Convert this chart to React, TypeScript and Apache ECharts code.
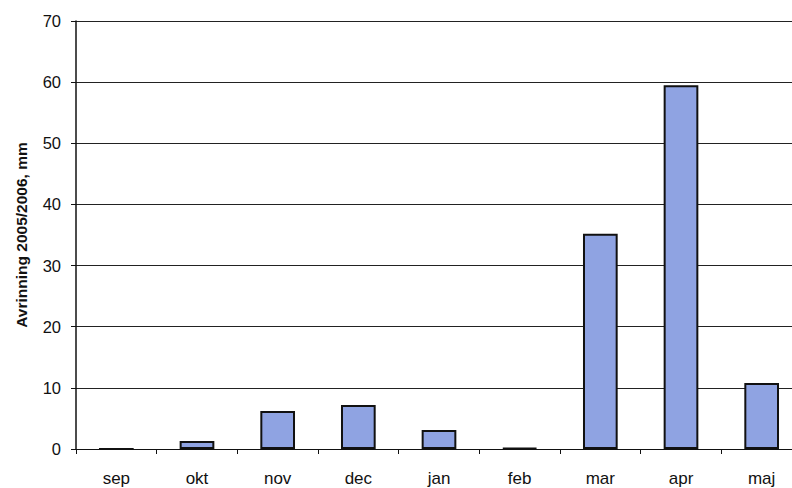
import React, { useEffect, useRef } from "react";
import * as echarts from "echarts";

const months = ["sep", "okt", "nov", "dec", "jan", "feb", "mar", "apr", "maj"];
const runoff = [0, 1.3, 6.2, 7.2, 3.1, 0.15, 35.2, 59.5, 10.8];
const yTicks = { min: 0, max: 70, interval: 10 };
const yTitle = "Avrinning 2005/2006, mm";

export default function App() {
  const ref = useRef<HTMLDivElement>(null);
  useEffect(() => {
    if (!ref.current) return;
    const chart = echarts.init(ref.current, undefined, { renderer: "svg" });
    chart.setOption({
      animation: false,
      backgroundColor: "#ffffff",
      grid: { left: 76, top: 21, bottom: 39, right: 2, containLabel: false },
      xAxis: {
        type: "category",
        data: months,
        axisLine: { lineStyle: { color: "#111", width: 1.2 } },
        axisTick: { show: true, length: 5, lineStyle: { color: "#111" } },
        axisLabel: { color: "#111", fontFamily: "Liberation Sans, Arial", fontSize: 17, margin: 21 },
      },
      yAxis: {
        type: "value",
        min: yTicks.min,
        max: yTicks.max,
        interval: yTicks.interval,
        name: yTitle,
        nameLocation: "middle",
        nameGap: 47,
        nameTextStyle: { color: "#111", fontFamily: "Liberation Sans, Arial", fontSize: 15.5, fontWeight: "bold" },
        axisLine: { show: true, lineStyle: { color: "#111", width: 1.5 } },
        axisTick: { show: true, length: 5, lineStyle: { color: "#111" } },
        axisLabel: { color: "#111", fontFamily: "Liberation Sans, Arial", fontSize: 16.5, margin: 15 },
        splitLine: { show: true, lineStyle: { color: "#222", width: 1 } },
      },
      series: [
        {
          type: "bar",
          data: runoff,
          barWidth: "43%",
          itemStyle: { color: "#8fa3e2", borderColor: "#111", borderWidth: 2 },
        },
      ],
    });
    return () => chart.dispose();
  }, []);
  return (
    <div style={{ position: "fixed", left: 0, top: 0, width: 792, height: 488, overflow: "hidden", background: "#fff" }}>
      <div ref={ref} style={{ width: 804, height: 488 }} />
    </div>
  );
}
